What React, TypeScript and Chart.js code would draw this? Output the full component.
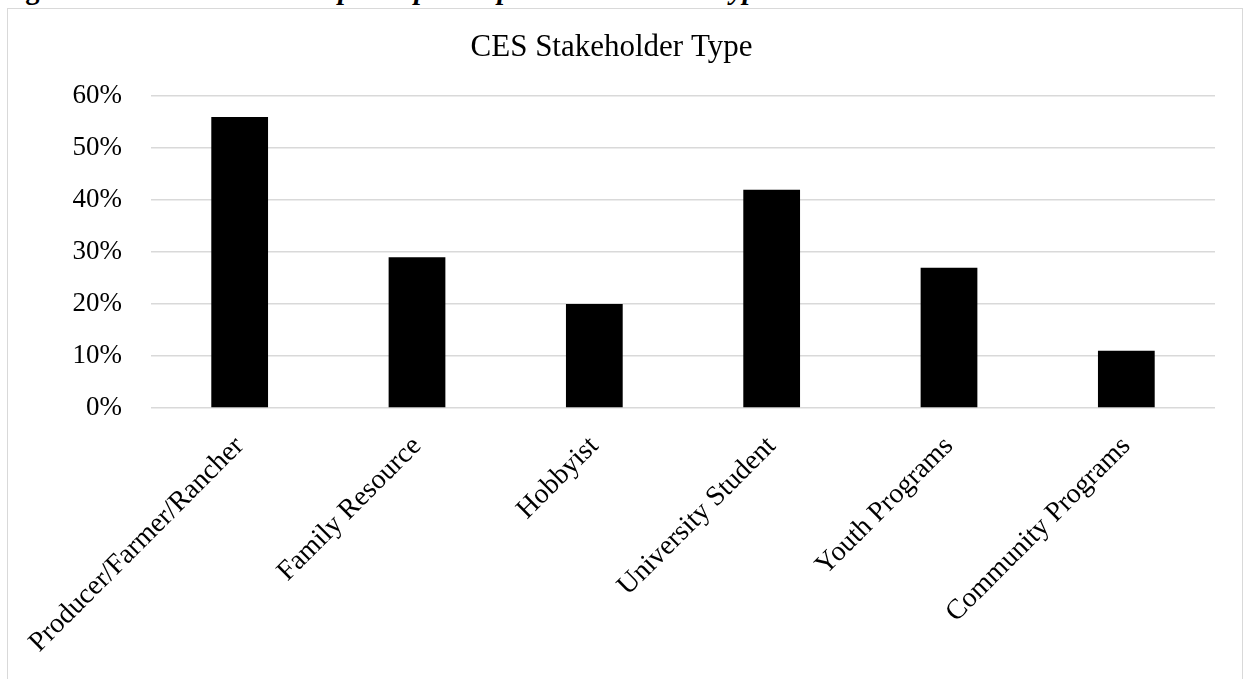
import React, { useEffect, useRef } from "react";
import { Chart, registerables } from "chart.js";

Chart.register(...registerables);

const chartTitle = "CES Stakeholder Type";
const categories = [
  "Producer/Farmer/Rancher",
  "Family Resource",
  "Hobbyist",
  "University Student",
  "Youth Programs",
  "Community Programs",
];
const shares = [56, 29, 20, 42, 27, 11];
const yMin = 0;
const yMax = 60;
const yStep = 10;

const FONT = "'Liberation Serif', 'Times New Roman', serif";

export default function App() {
  const canvasRef = useRef<HTMLCanvasElement | null>(null);

  useEffect(() => {
    const canvas = canvasRef.current;
    if (!canvas) return;
    const chart = new Chart(canvas, {
      type: "bar",
      data: {
        labels: categories,
        datasets: [
          {
            data: shares,
            backgroundColor: "#000000",
            borderWidth: 0,
            barPercentage: 0.32,
            categoryPercentage: 1,
          },
        ],
      },
      options: {
        animation: false,
        responsive: false,
        maintainAspectRatio: false,
        layout: { padding: { left: 0, right: 27, top: 0, bottom: 0 } },
        plugins: {
          legend: { display: false },
          tooltip: { enabled: false },
          title: {
            display: true,
            text: chartTitle,
            color: "#000000",
            font: { family: FONT, size: 31, weight: "normal" },
            padding: { top: 20, bottom: 30 },
          },
        },
        scales: {
          x: {
            grid: { display: false },
            border: { display: false },
            ticks: {
              color: "#000000",
              font: { family: FONT, size: 28 },
              minRotation: 45,
              maxRotation: 45,
              autoSkip: false,
              padding: 14,
            },
            afterFit: (scale: any) => {
              scale.height = 271;
            },
          },
          y: {
            min: yMin,
            max: yMax,
            grid: { color: "#d9d9d9", lineWidth: 1.5, drawTicks: false },
            border: { display: false },
            ticks: {
              stepSize: yStep,
              color: "#000000",
              font: { family: FONT, size: 27 },
              padding: 29,
              callback: (v: any) => `${v}%`,
            },
            afterFit: (scale: any) => {
              scale.width = 143;
            },
          },
        },
      },
    });
    return () => chart.destroy();
  }, []);

  return (
    <div
      style={{
        position: "fixed",
        inset: 0,
        overflow: "hidden",
        background: "#ffffff",
      }}
    >
      <div
        style={{
          position: "absolute",
          left: 0,
          top: -25,
          fontFamily: FONT,
          fontSize: 28.5,
          lineHeight: "29px",
          fontWeight: "bold",
          whiteSpace: "nowrap",
          color: "#000000",
        }}
      >
        Figure 8. CES - <i>stakeholder participant reported stakeholder type.</i>
      </div>
      <div
        style={{
          position: "absolute",
          left: 7,
          top: 8,
          width: 1234,
          height: 700,
          border: "1px solid #d9d9d9",
        }}
      >
        <canvas
          ref={canvasRef}
          width={1234}
          height={670}
          style={{ display: "block", width: 1234, height: 670 }}
        />
      </div>
    </div>
  );
}
